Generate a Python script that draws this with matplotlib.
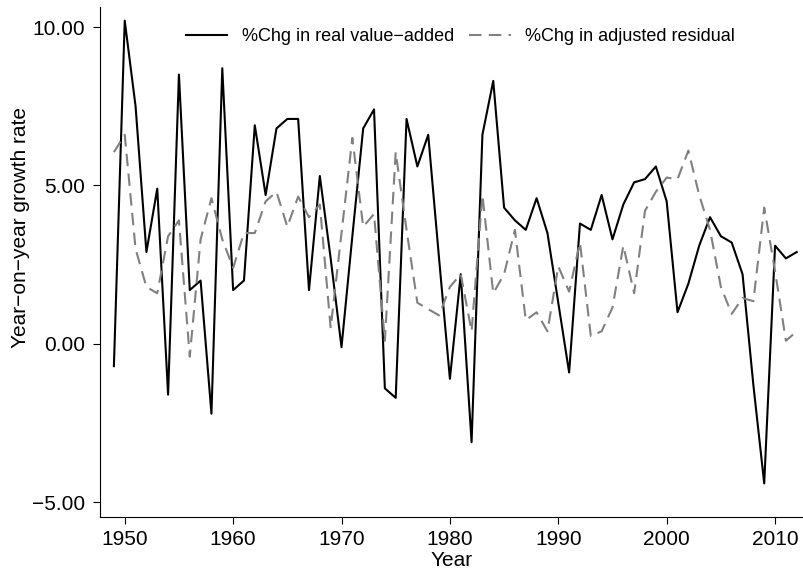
import matplotlib
matplotlib.use("Agg")
import matplotlib.pyplot as plt
from matplotlib.ticker import FuncFormatter

plt.rcParams['font.family'] = ['Liberation Sans', 'DejaVu Sans']

# years of the series
years = list(range(1949, 2013))

# %Chg in real value-added (black line)
real_va = [-0.7, 10.2, 7.5, 2.9, 4.9, -1.6, 8.5, 1.7, 2.0, -2.2,
           8.7, 1.7, 2.0, 6.9, 4.7, 6.8, 7.1, 7.1, 1.7, 5.3,
           2.7, -0.1, 3.4, 6.8, 7.4, -1.4, -1.7, 7.1, 5.6, 6.6,
           2.7, -1.1, 2.2, -3.1, 6.6, 8.3, 4.3, 3.9, 3.6, 4.6,
           3.5, 1.3, -0.9, 3.8, 3.6, 4.7, 3.3, 4.4, 5.1, 5.2,
           5.6, 4.5, 1.0, 1.9, 3.1, 4.0, 3.4, 3.2, 2.2, -1.3,
           -4.4, 3.1, 2.7, 2.9]

# %Chg in adjusted residual (grey dashed line)
adj_resid = [6.05, 6.6, 3.0, 1.8, 1.6, 3.4, 3.9, -0.4, 3.3, 4.6,
             3.3, 2.4, 3.5, 3.5, 4.5, 4.8, 3.7, 4.65, 4.0, 4.4,
             0.5, 3.5, 6.5, 3.7, 4.1, 0.1, 6.05, 3.6, 1.3, 1.1,
             0.9, 1.8, 2.2, 0.4, 4.7, 1.6, 2.2, 3.6, 0.75, 1.0,
             0.4, 2.45, 1.65, 3.2, 0.25, 0.4, 1.15, 3.1, 1.6, 4.2,
             4.8, 5.25, 5.2, 6.1, 4.7, 3.6, 1.8, 0.95, 1.45, 1.35,
             4.3, 2.3, 0.1, 0.4]

xticks = [1950, 1960, 1970, 1980, 1990, 2000, 2010]
yticks = [-5, 0, 5, 10]

fig = plt.figure(figsize=(8.04, 5.73), dpi=100)
ax = fig.add_axes([0.1244, 0.0977, 0.8756, 0.89])

ax.plot(years, real_va, color='black', lw=1.5, label='%Chg in real value\u2212added')
ax.plot(years, adj_resid, color='#808080', lw=1.5, dashes=(6, 3.5),
        label='%Chg in adjusted residual')

ax.set_xlim(1947.72, 2012.67)
ax.set_ylim(-5.46, 10.63)
ax.set_xticks(xticks)
ax.set_yticks(yticks)
# two decimals with a real minus sign
ax.yaxis.set_major_formatter(FuncFormatter(lambda v, p: f"{v:.2f}".replace('-', '\u2212')))

ax.spines['top'].set_visible(False)
ax.spines['right'].set_visible(False)
ax.tick_params(direction='out', length=5, width=0.8, labelsize=15, pad=6)
ax.tick_params(axis='x', pad=4)

ax.set_xlabel('Year', fontsize=15, labelpad=2)
ax.set_ylabel('Year\u2212on\u2212year growth rate', fontsize=15)
ax.yaxis.set_label_coords(-0.1, 0.567)

ax.legend(loc='upper center', bbox_to_anchor=(0.512, 0.99), ncol=2, frameon=False,
          fontsize=13, handlelength=2.3, columnspacing=0.85, handletextpad=0.8)

fig.savefig('out.png', dpi=100)
